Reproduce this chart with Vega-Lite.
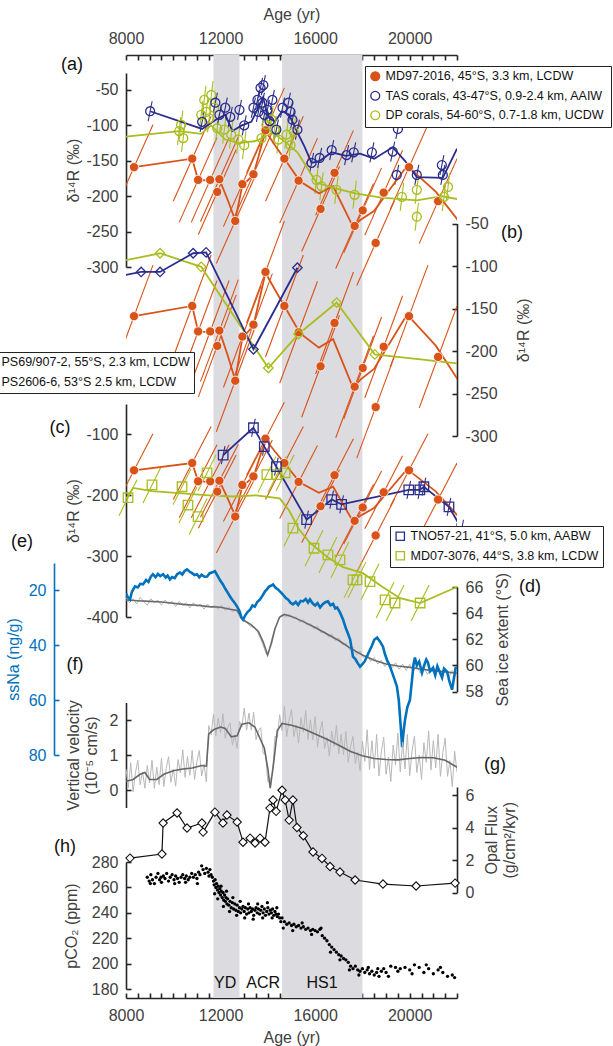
{
"$schema":"https://vega.github.io/schema/vega-lite/v6.json",
"width":331,"height":943,
"autosize":{"type":"none"},
"padding":{"left":126,"top":55,"right":156,"bottom":48},
"config":{
 "view":{"stroke":null},
 "font":"Liberation Sans",
 "axis":{"domainColor":"#262626","domainWidth":1.6,"tickColor":"#262626","tickWidth":1.6,"tickSize":-5,"labelPadding":13,"labelFontSize":16,"labelColor":"#404040","labelFont":"Liberation Sans","titleFont":"Liberation Sans","titleFontSize":16,"titleFontWeight":"normal","titleColor":"#404040","grid":false,"labelFlush":false,"labelOverlap":false,"labelExpr":"datum.value + ''"},
 "legend":{"labelFont":"Liberation Sans","labelFontSize":12.5,"labelColor":"#111111","labelLimit":400,"strokeColor":"#222222","fillColor":"white","padding":4,"rowPadding":4.5,"symbolStrokeWidth":1.3,"orient":"none"}
},
"datasets":{
 "md97":[
  {"age":8340,"r":-159,"a1":7540,"a2":9140,"r1":-219,"r2":-99},
  {"age":10800,"r":-147,"a1":10000,"a2":11600,"r1":-207,"r2":-87},
  {"age":11050,"r":-177,"a1":10250,"a2":11850,"r1":-237,"r2":-117},
  {"age":11560,"r":-177,"a1":10760,"a2":12360,"r1":-237,"r2":-117},
  {"age":11860,"r":-194,"a1":11060,"a2":12660,"r1":-254,"r2":-134},
  {"age":11950,"r":-176,"a1":11150,"a2":12750,"r1":-236,"r2":-116},
  {"age":12620,"r":-235,"a1":11820,"a2":13420,"r1":-295,"r2":-175},
  {"age":12920,"r":-183,"a1":12120,"a2":13720,"r1":-243,"r2":-123},
  {"age":13390,"r":-169,"a1":12590,"a2":14190,"r1":-229,"r2":-109},
  {"age":13900,"r":-107,"a1":13100,"a2":14700,"r1":-167,"r2":-47},
  {"age":14700,"r":-147,"a1":13900,"a2":15500,"r1":-207,"r2":-87},
  {"age":15300,"r":-178,"a1":14500,"a2":16100,"r1":-238,"r2":-118},
  {"age":16230,"r":-218,"a1":15430,"a2":17030,"r1":-278,"r2":-158},
  {"age":16820,"r":-167,"a1":16020,"a2":17620,"r1":-227,"r2":-107},
  {"age":17670,"r":-242,"a1":16870,"a2":18470,"r1":-302,"r2":-182},
  {"age":18010,"r":-220,"a1":17210,"a2":18810,"r1":-280,"r2":-160},
  {"age":18560,"r":-266,"a1":17760,"a2":19360,"r1":-326,"r2":-206},
  {"age":18900,"r":-195,"a1":18100,"a2":19700,"r1":-255,"r2":-135},
  {"age":19970,"r":-159,"a1":19170,"a2":20770,"r1":-219,"r2":-99},
  {"age":21200,"r":-207,"a1":20400,"a2":22000,"r1":-267,"r2":-147}
 ],
 "md97line":[
  {"age":8340,"r":-159},{"age":10800,"r":-147},{"age":11050,"r":-177},{"age":11560,"r":-178},{"age":11950,"r":-176},{"age":12300,"r":-205},{"age":12620,"r":-234},{"age":12920,"r":-185},{"age":13390,"r":-170},{"age":13900,"r":-108},{"age":14300,"r":-128},{"age":14700,"r":-147},{"age":15360,"r":-179},{"age":16160,"r":-196},{"age":16760,"r":-186},{"age":17600,"r":-243},{"age":17940,"r":-233},{"age":18490,"r":-221},{"age":19890,"r":-157},{"age":21110,"r":-194},{"age":22300,"r":-245}
 ],
 "tas":[
  {"age":9020,"r":-80},{"age":11220,"r":-95},{"age":11780,"r":-68},{"age":11950,"r":-85},{"age":12200,"r":-75},{"age":12410,"r":-88},{"age":12800,"r":-78},{"age":13000,"r":-100},{"age":13390,"r":-75},{"age":13560,"r":-64},{"age":13600,"r":-81},{"age":13690,"r":-47},{"age":13770,"r":-68},{"age":13810,"r":-43},{"age":13850,"r":-85},{"age":13980,"r":-78},{"age":14070,"r":-94},{"age":14190,"r":-64},{"age":14360,"r":-106},{"age":14620,"r":-75},{"age":14870,"r":-68},{"age":14960,"r":-81},{"age":15040,"r":-92},{"age":15250,"r":-106},{"age":15850,"r":-153},{"age":16190,"r":-146},{"age":16700,"r":-135},{"age":17330,"r":-142},{"age":17630,"r":-138},{"age":18400,"r":-138},{"age":19280,"r":-137},{"age":19500,"r":-105},{"age":19450,"r":-170},{"age":20300,"r":-170},{"age":21360,"r":-156},{"age":21400,"r":-170}
 ],
 "tasline":[
  {"age":9020,"r":-80},{"age":11220,"r":-105},{"age":11800,"r":-92},{"age":12200,"r":-85},{"age":12500,"r":-108},{"age":12900,"r":-100},{"age":13300,"r":-95},{"age":13600,"r":-75},{"age":13800,"r":-60},{"age":14000,"r":-88},{"age":14300,"r":-95},{"age":14600,"r":-80},{"age":14900,"r":-85},{"age":15250,"r":-110},{"age":15550,"r":-130},{"age":15850,"r":-153},{"age":16200,"r":-150},{"age":16700,"r":-138},{"age":17300,"r":-143},{"age":17900,"r":-140},{"age":18500,"r":-147},{"age":19280,"r":-131},{"age":19800,"r":-150},{"age":20300,"r":-173},{"age":21400,"r":-174},{"age":22000,"r":-133}
 ],
 "dp":[
  {"age":10250,"r":-108},{"age":10330,"r":-99},{"age":10420,"r":-118},{"age":11180,"r":-85},{"age":11310,"r":-64},{"age":11390,"r":-81},{"age":11520,"r":-90},{"age":11610,"r":-57},{"age":11730,"r":-75},{"age":11860,"r":-104},{"age":12160,"r":-106},{"age":12450,"r":-113},{"age":12750,"r":-120},{"age":13000,"r":-128},{"age":13730,"r":-118},{"age":13940,"r":-99},{"age":14150,"r":-92},{"age":14280,"r":-106},{"age":14450,"r":-120},{"age":14790,"r":-113},{"age":14960,"r":-128},{"age":15090,"r":-109},{"age":16060,"r":-177},{"age":16270,"r":-186},{"age":16900,"r":-191},{"age":17670,"r":-198},{"age":19670,"r":-201},{"age":20300,"r":-191},{"age":20300,"r":-229},{"age":21620,"r":-187},{"age":21450,"r":-201}
 ],
 "dpline":[
  {"age":8000,"r":-116},{"age":10250,"r":-108},{"age":11180,"r":-112},{"age":11600,"r":-100},{"age":12200,"r":-120},{"age":12800,"r":-125},{"age":13500,"r":-122},{"age":14200,"r":-110},{"age":14800,"r":-125},{"age":15250,"r":-138},{"age":16060,"r":-181},{"age":17100,"r":-191},{"age":17700,"r":-196},{"age":18800,"r":-202},{"age":20300,"r":-206},{"age":21360,"r":-200},{"age":22000,"r":-204}
 ],
 "ps69":[
  {"age":7700,"r":-112},{"age":8640,"r":-107},{"age":9440,"r":-107},{"age":10840,"r":-85},{"age":11390,"r":-84},{"age":13390,"r":-198},{"age":15250,"r":-102}
 ],
 "ps2606":[
  {"age":7500,"r":-96},{"age":9440,"r":-85},{"age":11180,"r":-101},{"age":14020,"r":-220},{"age":15300,"r":-180},{"age":16910,"r":-143},{"age":18520,"r":-204},{"age":22500,"r":-216}
 ],
 "tno":[
  {"age":12110,"r":-134},{"age":13390,"r":-89},{"age":13850,"r":-120},{"age":14360,"r":-153},{"age":15640,"r":-240},{"age":16700,"r":-207},{"age":17120,"r":-215},{"age":19960,"r":-191},{"age":20430,"r":-191},{"age":20600,"r":-186},{"age":21660,"r":-219},{"age":22200,"r":-255}
 ],
 "md07":[
  {"age":8085,"r":-204},{"age":9100,"r":-183},{"age":10370,"r":-186},{"age":10620,"r":-216},{"age":11050,"r":-235},{"age":11430,"r":-163},{"age":13960,"r":-166},{"age":14390,"r":-166},{"age":14730,"r":-163},{"age":15060,"r":-254},{"age":15950,"r":-287},{"age":16540,"r":-298},{"age":17050,"r":-306},{"age":17600,"r":-339},{"age":17770,"r":-339},{"age":18320,"r":-342},{"age":18960,"r":-372},{"age":19380,"r":-377},{"age":20440,"r":-377}
 ],
 "md07line":[
  {"age":8000,"r":-206},{"age":8300,"r":-188},{"age":9100,"r":-193},{"age":10370,"r":-197},{"age":11500,"r":-200},{"age":12500,"r":-202},{"age":13500,"r":-200},{"age":14500,"r":-205},{"age":14900,"r":-225},{"age":15300,"r":-255},{"age":15780,"r":-278},{"age":16500,"r":-301},{"age":17180,"r":-318},{"age":18020,"r":-328},{"age":18870,"r":-351},{"age":19590,"r":-369},{"age":20440,"r":-377},{"age":21920,"r":-352},{"age":22100,"r":-348}
 ],
 "seaice":[
  {"age":8000,"v":65.2},{"age":8150,"v":64.8},{"age":8300,"v":65.1},{"age":8450,"v":64.7},{"age":8600,"v":65.2},{"age":8750,"v":64.9},{"age":8900,"v":64.6},{"age":9050,"v":65.1},{"age":9200,"v":64.8},{"age":9350,"v":65.0},{"age":9500,"v":64.6},{"age":9650,"v":65.0},{"age":9800,"v":64.7},{"age":9950,"v":64.9},{"age":10100,"v":64.5},{"age":10250,"v":64.9},{"age":10400,"v":64.6},{"age":10550,"v":64.8},{"age":10700,"v":64.4},{"age":10850,"v":64.8},{"age":11000,"v":64.5},{"age":11150,"v":64.7},{"age":11300,"v":64.3},{"age":11450,"v":64.7},{"age":11600,"v":64.4},{"age":11750,"v":64.6},{"age":11900,"v":64.3},{"age":12050,"v":64.6},{"age":12200,"v":64.2},{"age":12350,"v":64.5},{"age":12500,"v":64.1},{"age":12650,"v":64.3},{"age":12800,"v":63.7},{"age":12950,"v":63.4},{"age":13100,"v":63.3},{"age":13250,"v":63.0},{"age":13400,"v":62.9},{"age":13550,"v":62.6},{"age":13700,"v":62.0},{"age":13850,"v":61.3},{"age":13950,"v":60.8},{"age":14050,"v":61.1},{"age":14150,"v":61.9},{"age":14300,"v":62.8},{"age":14450,"v":63.5},{"age":14600,"v":63.9},{"age":14750,"v":63.7},{"age":14900,"v":63.9},{"age":15050,"v":63.6},{"age":15200,"v":63.7},{"age":15350,"v":63.3},{"age":15500,"v":63.5},{"age":15650,"v":63.1},{"age":15800,"v":63.2},{"age":15950,"v":62.8},{"age":16100,"v":63.0},{"age":16250,"v":62.5},{"age":16400,"v":62.6},{"age":16550,"v":62.2},{"age":16700,"v":62.4},{"age":16850,"v":61.9},{"age":17000,"v":62.1},{"age":17150,"v":61.6},{"age":17300,"v":61.7},{"age":17450,"v":61.2},{"age":17600,"v":61.4},{"age":17750,"v":60.8},{"age":17900,"v":61.1},{"age":18050,"v":60.6},{"age":18200,"v":60.8},{"age":18350,"v":60.3},{"age":18500,"v":60.6},{"age":18650,"v":60.1},{"age":18800,"v":60.4},{"age":18950,"v":59.9},{"age":19100,"v":60.3},{"age":19250,"v":59.8},{"age":19400,"v":60.2},{"age":19550,"v":59.7},{"age":19700,"v":60.1},{"age":19850,"v":59.6},{"age":20000,"v":60.1},{"age":20150,"v":59.5},{"age":20300,"v":60.0},{"age":20450,"v":59.4},{"age":20600,"v":59.9},{"age":20750,"v":59.3},{"age":20900,"v":59.8},{"age":21050,"v":59.3},{"age":21200,"v":59.8},{"age":21350,"v":59.2},{"age":21500,"v":59.7},{"age":21650,"v":59.1},{"age":21800,"v":59.6},{"age":21950,"v":59.2},{"age":22000,"v":59.5}
 ],
 "seaicesm":[
  {"age":8000,"v":65.0},{"age":8500,"v":64.95},{"age":9000,"v":64.9},{"age":9500,"v":64.85},{"age":10000,"v":64.75},{"age":10500,"v":64.65},{"age":11000,"v":64.6},{"age":11500,"v":64.5},{"age":12000,"v":64.45},{"age":12400,"v":64.3},{"age":12700,"v":64.2},{"age":12950,"v":63.5},{"age":13300,"v":63.1},{"age":13600,"v":62.6},{"age":13800,"v":61.8},{"age":13990,"v":60.8},{"age":14150,"v":61.7},{"age":14300,"v":62.8},{"age":14500,"v":63.7},{"age":14700,"v":63.9},{"age":15000,"v":63.75},{"age":15500,"v":63.35},{"age":16000,"v":62.9},{"age":16500,"v":62.4},{"age":17000,"v":61.9},{"age":17500,"v":61.3},{"age":18000,"v":60.8},{"age":18500,"v":60.4},{"age":19000,"v":60.1},{"age":19500,"v":59.95},{"age":20000,"v":59.85},{"age":20500,"v":59.7},{"age":21000,"v":59.6},{"age":21500,"v":59.5},{"age":22000,"v":59.4}
 ],
 "ssna":[
  {"age":8000,"v":21.1},{"age":8080,"v":22.5},{"age":8170,"v":23.3},{"age":8250,"v":20.5},{"age":8380,"v":18.5},{"age":8500,"v":18.9},{"age":8600,"v":17.6},{"age":8720,"v":17.8},{"age":8850,"v":16.2},{"age":8950,"v":16.9},{"age":9050,"v":15.0},{"age":9140,"v":14.1},{"age":9250,"v":15.2},{"age":9350,"v":14.0},{"age":9450,"v":14.8},{"age":9570,"v":14.1},{"age":9680,"v":15.3},{"age":9760,"v":14.6},{"age":9860,"v":16.0},{"age":9950,"v":15.1},{"age":10060,"v":15.5},{"age":10160,"v":14.1},{"age":10280,"v":13.5},{"age":10380,"v":14.2},{"age":10480,"v":12.9},{"age":10580,"v":12.3},{"age":10680,"v":13.1},{"age":10780,"v":13.6},{"age":10900,"v":14.4},{"age":11000,"v":14.1},{"age":11100,"v":15.2},{"age":11200,"v":14.3},{"age":11320,"v":15.0},{"age":11430,"v":14.9},{"age":11530,"v":13.8},{"age":11650,"v":13.4},{"age":11760,"v":13.0},{"age":11870,"v":14.6},{"age":11980,"v":16.3},{"age":12100,"v":17.8},{"age":12200,"v":19.4},{"age":12300,"v":20.8},{"age":12400,"v":22.2},{"age":12500,"v":23.5},{"age":12600,"v":24.6},{"age":12700,"v":25.9},{"age":12800,"v":27.5},{"age":12880,"v":29.8},{"age":12950,"v":30.6},{"age":13050,"v":29.0},{"age":13150,"v":27.8},{"age":13250,"v":27.0},{"age":13350,"v":25.5},{"age":13450,"v":25.9},{"age":13550,"v":24.2},{"age":13670,"v":23.3},{"age":13780,"v":21.8},{"age":13880,"v":20.3},{"age":13960,"v":19.6},{"age":14050,"v":18.6},{"age":14150,"v":18.2},{"age":14220,"v":17.8},{"age":14330,"v":19.0},{"age":14440,"v":19.7},{"age":14540,"v":20.6},{"age":14640,"v":21.5},{"age":14760,"v":22.8},{"age":14860,"v":23.4},{"age":14960,"v":24.5},{"age":15060,"v":25.1},{"age":15180,"v":24.2},{"age":15280,"v":25.3},{"age":15390,"v":23.8},{"age":15490,"v":24.0},{"age":15600,"v":23.1},{"age":15700,"v":24.4},{"age":15780,"v":23.3},{"age":15900,"v":24.8},{"age":16000,"v":25.5},{"age":16100,"v":24.6},{"age":16210,"v":26.2},{"age":16320,"v":25.0},{"age":16430,"v":24.3},{"age":16540,"v":24.0},{"age":16650,"v":25.4},{"age":16760,"v":24.9},{"age":16850,"v":26.6},{"age":16930,"v":26.2},{"age":17050,"v":28.0},{"age":17180,"v":30.6},{"age":17300,"v":33.8},{"age":17400,"v":36.0},{"age":17480,"v":37.9},{"age":17550,"v":41.5},{"age":17600,"v":44.1},{"age":17700,"v":45.0},{"age":17800,"v":46.5},{"age":17900,"v":47.8},{"age":18000,"v":46.9},{"age":18100,"v":45.8},{"age":18190,"v":44.1},{"age":18300,"v":42.0},{"age":18400,"v":40.2},{"age":18500,"v":38.0},{"age":18620,"v":37.2},{"age":18740,"v":38.6},{"age":18870,"v":40.5},{"age":18950,"v":43.2},{"age":19050,"v":45.6},{"age":19170,"v":47.8},{"age":19280,"v":50.5},{"age":19380,"v":53.0},{"age":19460,"v":55.1},{"age":19540,"v":60.2},{"age":19590,"v":66.1},{"age":19640,"v":72.0},{"age":19680,"v":77.1},{"age":19740,"v":71.5},{"age":19800,"v":67.2},{"age":19900,"v":62.5},{"age":20010,"v":59.9},{"age":20100,"v":52.3},{"age":20160,"v":47.0},{"age":20220,"v":44.5},{"age":20300,"v":47.3},{"age":20400,"v":46.0},{"age":20520,"v":50.0},{"age":20620,"v":47.1},{"age":20700,"v":45.2},{"age":20770,"v":46.3},{"age":20860,"v":49.5},{"age":20990,"v":48.2},{"age":21080,"v":50.9},{"age":21170,"v":47.6},{"age":21280,"v":49.9},{"age":21370,"v":51.8},{"age":21450,"v":48.5},{"age":21580,"v":49.6},{"age":21680,"v":53.2},{"age":21790,"v":56.2},{"age":21870,"v":52.0},{"age":21950,"v":47.8}
 ],
 "vel":[
  {"age":8000,"v":0.60},{"age":8100,"v":0.07},{"age":8200,"v":0.78},{"age":8300,"v":-0.05},{"age":8400,"v":0.50},{"age":8500,"v":0.85},{"age":8600,"v":0.15},{"age":8700,"v":0.52},{"age":8800,"v":0.05},{"age":8900,"v":0.70},{"age":9000,"v":0.20},{"age":9100,"v":0.85},{"age":9200,"v":0.05},{"age":9300,"v":0.65},{"age":9400,"v":0.15},{"age":9500,"v":0.90},{"age":9600,"v":0.10},{"age":9700,"v":0.62},{"age":9800,"v":0.95},{"age":9900,"v":0.22},{"age":10000,"v":0.60},{"age":10100,"v":0.11},{"age":10200,"v":0.87},{"age":10300,"v":0.49},{"age":10400,"v":1.15},{"age":10500,"v":0.36},{"age":10600,"v":0.96},{"age":10700,"v":0.42},{"age":10800,"v":1.13},{"age":10900,"v":0.30},{"age":11000,"v":0.81},{"age":11100,"v":1.13},{"age":11200,"v":0.40},{"age":11300,"v":0.74},{"age":11400,"v":0.23},{"age":11500,"v":1.84},{"age":11600,"v":1.58},{"age":11700,"v":2.16},{"age":11800,"v":1.55},{"age":11900,"v":2.05},{"age":12000,"v":1.64},{"age":12100,"v":2.18},{"age":12200,"v":1.48},{"age":12300,"v":1.78},{"age":12400,"v":1.92},{"age":12500,"v":1.28},{"age":12600,"v":1.57},{"age":12700,"v":1.19},{"age":12800,"v":1.96},{"age":12900,"v":1.80},{"age":13000,"v":2.34},{"age":13100,"v":1.71},{"age":13200,"v":2.20},{"age":13300,"v":1.71},{"age":13400,"v":2.22},{"age":13500,"v":1.44},{"age":13600,"v":1.70},{"age":13700,"v":1.78},{"age":13800,"v":1.04},{"age":13900,"v":1.04},{"age":14000,"v":0.24},{"age":14100,"v":0.29},{"age":14200,"v":0.47},{"age":14300,"v":1.54},{"age":14400,"v":1.50},{"age":14500,"v":2.15},{"age":14600,"v":1.70},{"age":14700,"v":2.39},{"age":14800,"v":1.53},{"age":14900,"v":2.01},{"age":15000,"v":2.30},{"age":15100,"v":1.53},{"age":15200,"v":1.86},{"age":15300,"v":1.34},{"age":15400,"v":2.07},{"age":15500,"v":1.65},{"age":15600,"v":2.27},{"age":15700,"v":1.44},{"age":15800,"v":2.01},{"age":15900,"v":1.43},{"age":16000,"v":2.10},{"age":16100,"v":1.22},{"age":16200,"v":1.69},{"age":16300,"v":1.96},{"age":16400,"v":1.18},{"age":16500,"v":1.50},{"age":16600,"v":0.97},{"age":16700,"v":1.68},{"age":16800,"v":1.25},{"age":16900,"v":1.86},{"age":17000,"v":1.03},{"age":17100,"v":1.59},{"age":17200,"v":1.01},{"age":17300,"v":1.67},{"age":17400,"v":0.79},{"age":17500,"v":1.25},{"age":17600,"v":1.53},{"age":17700,"v":0.75},{"age":17800,"v":1.08},{"age":17900,"v":0.55},{"age":18000,"v":1.40},{"age":18100,"v":0.82},{"age":18200,"v":1.72},{"age":18300,"v":0.58},{"age":18400,"v":1.41},{"age":18500,"v":0.62},{"age":18600,"v":1.59},{"age":18700,"v":0.40},{"age":18800,"v":1.09},{"age":18900,"v":1.51},{"age":19000,"v":0.45},{"age":19100,"v":0.94},{"age":19200,"v":0.24},{"age":19300,"v":1.28},{"age":19400,"v":0.72},{"age":19500,"v":1.63},{"age":19600,"v":0.52},{"age":19700,"v":1.37},{"age":19800,"v":0.60},{"age":19900,"v":1.59},{"age":20000,"v":0.41},{"age":20100,"v":1.12},{"age":20200,"v":1.54},{"age":20300,"v":0.50},{"age":20400,"v":1.00},{"age":20500,"v":0.30},{"age":20600,"v":1.35},{"age":20700,"v":0.79},{"age":20800,"v":1.69},{"age":20900,"v":0.57},{"age":21000,"v":1.41},{"age":21100,"v":0.63},{"age":21200,"v":1.59},{"age":21300,"v":0.39},{"age":21400,"v":1.07},{"age":21500,"v":1.48},{"age":21600,"v":0.39},{"age":21700,"v":0.84},{"age":21800,"v":0.10},{"age":21900,"v":1.11},{"age":22000,"v":0.51}
 ],
 "velsm":[
  {"age":8000,"v":0.25},{"age":8300,"v":0.3},{"age":8600,"v":0.45},{"age":8800,"v":0.5},{"age":9000,"v":0.3},{"age":9300,"v":0.3},{"age":9600,"v":0.45},{"age":10000,"v":0.55},{"age":10400,"v":0.6},{"age":10800,"v":0.63},{"age":11200,"v":0.7},{"age":11400,"v":0.68},{"age":11500,"v":1.6},{"age":11700,"v":1.72},{"age":12000,"v":1.8},{"age":12200,"v":1.76},{"age":12450,"v":1.52},{"age":12700,"v":1.55},{"age":12900,"v":1.88},{"age":13200,"v":1.92},{"age":13450,"v":1.8},{"age":13650,"v":1.5},{"age":13850,"v":1.2},{"age":14000,"v":0.6},{"age":14100,"v":0.05},{"age":14250,"v":0.8},{"age":14400,"v":1.7},{"age":14600,"v":1.9},{"age":15000,"v":1.85},{"age":15500,"v":1.75},{"age":16000,"v":1.6},{"age":16500,"v":1.45},{"age":17000,"v":1.28},{"age":17500,"v":1.1},{"age":18000,"v":0.98},{"age":18500,"v":0.9},{"age":19000,"v":0.87},{"age":19500,"v":0.86},{"age":20000,"v":0.9},{"age":20500,"v":0.93},{"age":21000,"v":0.92},{"age":21500,"v":0.85},{"age":22000,"v":0.65}
 ],
 "opal":[
  {"age":8170,"v":2.12},{"age":9520,"v":2.37},{"age":9570,"v":4.28},{"age":10160,"v":4.9},{"age":10580,"v":3.97},{"age":11210,"v":4.28},{"age":11260,"v":3.72},{"age":11760,"v":4.95},{"age":12100,"v":4.28},{"age":12270,"v":4.77},{"age":12700,"v":4.34},{"age":12950,"v":3.1},{"age":13250,"v":3.35},{"age":13460,"v":3.05},{"age":13670,"v":3.35},{"age":13880,"v":3.1},{"age":14090,"v":5.2},{"age":14220,"v":5.7},{"age":14350,"v":5.0},{"age":14600,"v":6.3},{"age":14730,"v":5.7},{"age":14900,"v":4.46},{"age":15060,"v":5.7},{"age":15230,"v":4.0},{"age":15500,"v":3.5},{"age":15910,"v":2.5},{"age":16290,"v":2.1},{"age":16630,"v":1.6},{"age":17050,"v":1.26},{"age":17690,"v":0.77},{"age":18870,"v":0.52},{"age":20270,"v":0.4},{"age":21920,"v":0.58}
 ],
 "co2":[
  {"age":8900,"v":268},{"age":8980,"v":265},{"age":9050,"v":270},{"age":9120,"v":266},{"age":9200,"v":263},{"age":9270,"v":268},{"age":9350,"v":271},{"age":9420,"v":266},{"age":9500,"v":264},{"age":9580,"v":269},{"age":9650,"v":267},{"age":9720,"v":271},{"age":9800,"v":265},{"age":9870,"v":268},{"age":9950,"v":270},{"age":10030,"v":266},{"age":10100,"v":269},{"age":10180,"v":267},{"age":10250,"v":264},{"age":10330,"v":268},{"age":10400,"v":270},{"age":10480,"v":267},{"age":10550,"v":269},{"age":10630,"v":266},{"age":10700,"v":268},{"age":10780,"v":271},{"age":10850,"v":268},{"age":10930,"v":270},{"age":11000,"v":267},{"age":11070,"v":272},{"age":11130,"v":270},{"age":11200,"v":277},{"age":11260,"v":274},{"age":11330,"v":271},{"age":11400,"v":275},{"age":11470,"v":272},{"age":11550,"v":274},{"age":11600,"v":270},{"age":11650,"v":268},{"age":11700,"v":265},{"age":11730,"v":262},{"age":11770,"v":266},{"age":11800,"v":260},{"age":11830,"v":263},{"age":11870,"v":258},{"age":11900,"v":261},{"age":11930,"v":256},{"age":11970,"v":259},{"age":12000,"v":254},{"age":12030,"v":257},{"age":12070,"v":252},{"age":12100,"v":256},{"age":12130,"v":250},{"age":12170,"v":254},{"age":12200,"v":249},{"age":12230,"v":252},{"age":12270,"v":247},{"age":12300,"v":251},{"age":12350,"v":246},{"age":12400,"v":249},{"age":12450,"v":244},{"age":12500,"v":248},{"age":12550,"v":243},{"age":12600,"v":247},{"age":12650,"v":242},{"age":12700,"v":246},{"age":12750,"v":241},{"age":12800,"v":244},{"age":12850,"v":240},{"age":12900,"v":243},{"age":12950,"v":245},{"age":13000,"v":241},{"age":13050,"v":244},{"age":13100,"v":239},{"age":13150,"v":243},{"age":13200,"v":240},{"age":13250,"v":244},{"age":13300,"v":241},{"age":13350,"v":243},{"age":13400,"v":238},{"age":13450,"v":242},{"age":13500,"v":244},{"age":13550,"v":240},{"age":13600,"v":243},{"age":13650,"v":239},{"age":13700,"v":242},{"age":13750,"v":245},{"age":13800,"v":240},{"age":13850,"v":243},{"age":13900,"v":238},{"age":13950,"v":241},{"age":14000,"v":244},{"age":14050,"v":239},{"age":14100,"v":242},{"age":14150,"v":240},{"age":14200,"v":243},{"age":14250,"v":238},{"age":14300,"v":241},{"age":14350,"v":239},{"age":14400,"v":237},{"age":14450,"v":239},{"age":14500,"v":236},{"age":14550,"v":233},{"age":14600,"v":236},{"age":14700,"v":233},{"age":14800,"v":231},{"age":14900,"v":232},{"age":15000,"v":230},{"age":15100,"v":231},{"age":15200,"v":229},{"age":15300,"v":230},{"age":15400,"v":228},{"age":15500,"v":229},{"age":15600,"v":227},{"age":15700,"v":228},{"age":15800,"v":226},{"age":15900,"v":227},{"age":16000,"v":226},{"age":16100,"v":225},{"age":16200,"v":227},{"age":16300,"v":222},{"age":16400,"v":220},{"age":16500,"v":218},{"age":16600,"v":215},{"age":16700,"v":213},{"age":16800,"v":211},{"age":16900,"v":209},{"age":17000,"v":207},{"age":17100,"v":206},{"age":17200,"v":204},{"age":17300,"v":203},{"age":17400,"v":201},{"age":17500,"v":198},{"age":17600,"v":196},{"age":17700,"v":198},{"age":17800,"v":195},{"age":17900,"v":194},{"age":18000,"v":196},{"age":18100,"v":193},{"age":18200,"v":195},{"age":18300,"v":192},{"age":18400,"v":194},{"age":18500,"v":191},{"age":18600,"v":193},{"age":18700,"v":190},{"age":18800,"v":194},{"age":18900,"v":196},{"age":19000,"v":193},{"age":19200,"v":198},{"age":19400,"v":197},{"age":19600,"v":196},{"age":19800,"v":197},{"age":20000,"v":195},{"age":20200,"v":199},{"age":20400,"v":197},{"age":20600,"v":193},{"age":20800,"v":196},{"age":21000,"v":192},{"age":21200,"v":195},{"age":21400,"v":193},{"age":21600,"v":190},{"age":21800,"v":191},{"age":21900,"v":189},
  {"age":9030,"v":263},{"age":9480,"v":268},{"age":10060,"v":263},{"age":10520,"v":264},{"age":11020,"v":263},{"age":11510,"v":269},{"age":11750,"v":255},{"age":11880,"v":251},{"age":12020,"v":261},{"age":12120,"v":245},{"age":12250,"v":257},{"age":12380,"v":241},{"age":12520,"v":252},{"age":12680,"v":238},{"age":12830,"v":249},{"age":13020,"v":236},{"age":13180,"v":247},{"age":13380,"v":235},{"age":13570,"v":247},{"age":13780,"v":236},{"age":13980,"v":248},{"age":14180,"v":236},{"age":14380,"v":244},{"age":14650,"v":228},{"age":15050,"v":226},{"age":15450,"v":232},{"age":15850,"v":223},{"age":16250,"v":228},{"age":16650,"v":209},{"age":17050,"v":203},{"age":17450,"v":195},{"age":17850,"v":191},{"age":18250,"v":197},{"age":18650,"v":196},{"age":19100,"v":190},{"age":19500,"v":194},{"age":20100,"v":192},{"age":20700,"v":199},{"age":21300,"v":197}
 ]
},
"resolve":{"scale":{"y":"independent","color":"independent"},"axis":{"x":"independent","y":"independent"},"legend":{"color":"independent"}},
"layer":[
 {"data":{"values":[{"x1":11700,"x2":12800},{"x1":14600,"x2":18000}]},
  "mark":{"type":"rect","color":"#dcdbe0"},
  "encoding":{"x":{"field":"x1","type":"quantitative","scale":{"domain":[8000,22000],"nice":false,"zero":false},"axis":{"orient":"top","values":[8000,8500,9000,9500,10000,10500,11000,11500,12000,12500,13000,13500,14000,14500,15000,15500,16000,16500,17000,17500,18000,18500,19000,19500,20000,20500,21000,21500,22000],"labelExpr":"datum.value % 4000 == 0 ? datum.value + '' : ''","title":"Age (yr)","titlePadding":8,"labelPadding":14}},"x2":{"field":"x2"}}},

 {"data":{"name":"seaice"},"mark":{"type":"line","color":"#b8b8b8","strokeWidth":1,"clip":true},
  "encoding":{"x":{"field":"age","type":"quantitative","scale":{"domain":[8000,22000],"nice":false,"zero":false},"axis":null},
   "y":{"field":"v","type":"quantitative","scale":{"domain":[58,66],"range":[636.5,532],"nice":false,"zero":false},"axis":{"orient":"right","values":[58,60,62,64,66],"title":"Sea ice extent (°S)","titleAngle":-90,"titleBaseline":"top","titlePadding":12}}}},
 {"data":{"name":"seaicesm"},"mark":{"type":"line","color":"#6b6b6b","strokeWidth":1.6,"clip":true},
  "encoding":{"x":{"field":"age","type":"quantitative","scale":{"domain":[8000,22000],"nice":false,"zero":false},"axis":null},
   "y":{"field":"v","type":"quantitative","scale":{"domain":[58,66],"range":[636.5,532],"nice":false,"zero":false},"axis":null}}},
 {"data":{"values":[{}]},"mark":{"type":"text","text":"(d)","fontSize":18,"color":"#111111"},
  "encoding":{"x":{"datum":25090,"type":"quantitative","scale":{"domain":[8000,22000],"nice":false,"zero":false},"axis":null},
   "y":{"datum":66,"type":"quantitative","scale":{"domain":[58,66],"range":[636.5,532],"nice":false,"zero":false},"axis":null}}},

 {"data":{"name":"ssna"},"mark":{"type":"line","color":"#0072BD","strokeWidth":2.6,"clip":true},
  "encoding":{"x":{"field":"age","type":"quantitative","scale":{"domain":[8000,22000],"nice":false,"zero":false},"axis":null},
   "y":{"field":"v","type":"quantitative","scale":{"domain":[10,80],"range":[508,700],"nice":false,"zero":false},"axis":{"orient":"left","offset":72,"values":[20,40,60,80],"title":"ssNa (ng/g)","titlePadding":7,"domainColor":"#0072BD","tickColor":"#0072BD","labelColor":"#0072BD","titleColor":"#0072BD"}}}},
 {"data":{"values":[{}]},"mark":{"type":"text","text":"(e)","fontSize":18,"color":"#111111"},
  "encoding":{"x":{"datum":3600,"type":"quantitative","scale":{"domain":[8000,22000],"nice":false,"zero":false},"axis":null},
   "y":{"datum":2.34,"type":"quantitative","scale":{"domain":[10,80],"range":[508,700],"nice":false,"zero":false},"axis":null}}},

 {"data":{"name":"vel"},"mark":{"type":"line","color":"#b8b8b8","strokeWidth":1,"clip":true},
  "encoding":{"x":{"field":"age","type":"quantitative","scale":{"domain":[8000,22000],"nice":false,"zero":false},"axis":null},
   "y":{"field":"v","type":"quantitative","scale":{"domain":[-0.5,2.5],"range":[752.5,647.5],"nice":false,"zero":false},"axis":{"orient":"left","values":[0,1,2],"title":["Vertical velocity","(10⁻⁵ cm/s)"],"titlePadding":10}}}},
 {"data":{"name":"velsm"},"mark":{"type":"line","color":"#666666","strokeWidth":1.6,"clip":true},
  "encoding":{"x":{"field":"age","type":"quantitative","scale":{"domain":[8000,22000],"nice":false,"zero":false},"axis":null},
   "y":{"field":"v","type":"quantitative","scale":{"domain":[-0.5,2.5],"range":[752.5,647.5],"nice":false,"zero":false},"axis":null}}},
 {"data":{"values":[{}]},"mark":{"type":"text","text":"(f)","fontSize":18,"color":"#111111"},
  "encoding":{"x":{"datum":5843,"type":"quantitative","scale":{"domain":[8000,22000],"nice":false,"zero":false},"axis":null},
   "y":{"datum":3.57,"type":"quantitative","scale":{"domain":[-0.5,2.5],"range":[752.5,647.5],"nice":false,"zero":false},"axis":null}}},

 {"data":{"name":"opal"},"mark":{"type":"line","color":"#111111","strokeWidth":1.2},
  "encoding":{"x":{"field":"age","type":"quantitative","scale":{"domain":[8000,22000],"nice":false,"zero":false},"axis":null},
   "y":{"field":"v","type":"quantitative","scale":{"domain":[0,6.5],"range":[837.5,732],"nice":false,"zero":false},"axis":{"orient":"right","values":[0,2,4,6],"title":["Opal Flux","(g/cm²/kyr)"],"titleAngle":-90,"titleBaseline":"top","titlePadding":-8}}}},
 {"data":{"name":"opal"},"mark":{"type":"point","shape":"diamond","size":70,"filled":true,"fill":"white","stroke":"#111111","strokeWidth":1.1,"opacity":1},
  "encoding":{"x":{"field":"age","type":"quantitative","scale":{"domain":[8000,22000],"nice":false,"zero":false},"axis":null},
   "y":{"field":"v","type":"quantitative","scale":{"domain":[0,6.5],"range":[837.5,732],"nice":false,"zero":false},"axis":null}}},
 {"data":{"values":[{}]},"mark":{"type":"text","text":"(g)","fontSize":18,"color":"#111111"},
  "encoding":{"x":{"datum":23610,"type":"quantitative","scale":{"domain":[8000,22000],"nice":false,"zero":false},"axis":null},
   "y":{"datum":7.86,"type":"quantitative","scale":{"domain":[0,6.5],"range":[837.5,732],"nice":false,"zero":false},"axis":null}}},

 {"data":{"name":"co2"},"mark":{"type":"point","shape":"circle","size":11,"filled":true,"color":"#000000","opacity":1},
  "encoding":{"x":{"field":"age","type":"quantitative","scale":{"domain":[8000,22000],"nice":false,"zero":false},"axis":{"orient":"bottom","values":[8000,8500,9000,9500,10000,10500,11000,11500,12000,12500,13000,13500,14000,14500,15000,15500,16000,16500,17000,17500,18000,18500,19000,19500,20000,20500,21000,21500,22000],"labelExpr":"datum.value % 4000 == 0 ? datum.value + '' : ''","title":"Age (yr)","titlePadding":6,"labelPadding":14}},
   "y":{"field":"v","type":"quantitative","scale":{"domain":[180,280],"range":[934,807],"nice":false,"zero":false},"axis":{"orient":"left","values":[180,200,220,240,260,280],"title":"pCO₂ (ppm)","titlePadding":12}}}},
 {"data":{"values":[{}]},"mark":{"type":"text","text":"(h)","fontSize":18,"color":"#111111"},
  "encoding":{"x":{"datum":5420,"type":"quantitative","scale":{"domain":[8000,22000],"nice":false,"zero":false},"axis":null},
   "y":{"datum":291.8,"type":"quantitative","scale":{"domain":[180,280],"range":[934,807],"nice":false,"zero":false},"axis":null}}},
 {"data":{"values":[{}]},"mark":{"type":"text","text":"YD","fontSize":16,"color":"#111111"},
  "encoding":{"x":{"datum":12190,"type":"quantitative","scale":{"domain":[8000,22000],"nice":false,"zero":false},"axis":null},
   "y":{"datum":184.7,"type":"quantitative","scale":{"domain":[180,280],"range":[934,807],"nice":false,"zero":false},"axis":null}}},
 {"data":{"values":[{}]},"mark":{"type":"text","text":"ACR","fontSize":16,"color":"#111111"},
  "encoding":{"x":{"datum":13800,"type":"quantitative","scale":{"domain":[8000,22000],"nice":false,"zero":false},"axis":null},
   "y":{"datum":184.7,"type":"quantitative","scale":{"domain":[180,280],"range":[934,807],"nice":false,"zero":false},"axis":null}}},
 {"data":{"values":[{}]},"mark":{"type":"text","text":"HS1","fontSize":16,"color":"#111111"},
  "encoding":{"x":{"datum":16290,"type":"quantitative","scale":{"domain":[8000,22000],"nice":false,"zero":false},"axis":null},
   "y":{"datum":184.7,"type":"quantitative","scale":{"domain":[180,280],"range":[934,807],"nice":false,"zero":false},"axis":null}}},

 {"data":{"name":"md97"},"mark":{"type":"rule","strokeWidth":1.1,"clip":true,"color":"#D95319"},
  "encoding":{"x":{"field":"a1","type":"quantitative","scale":{"domain":[8000,22000],"nice":false,"zero":false},"axis":null},"x2":{"field":"a2"},
   "y":{"field":"r1","type":"quantitative","scale":{"domain":[-400,-50],"range":[562,349],"nice":false,"zero":false},"axis":{"orient":"left","values":[-400,-300,-200,-100],"title":"δ¹⁴R (‰)","titlePadding":4}},"y2":{"field":"r2"}}},
 {"data":{"name":"md07"},"mark":{"type":"point","shape":"M-0.5,1L0.5,-1","size":1296,"filled":false,"strokeWidth":1.1,"opacity":1,"color":"#a9bd1e"},
  "encoding":{"x":{"field":"age","type":"quantitative","scale":{"domain":[8000,22000],"nice":false,"zero":false},"axis":null},
   "y":{"field":"r","type":"quantitative","scale":{"domain":[-400,-50],"range":[562,349],"nice":false,"zero":false},"axis":null}}},
 {"data":{"name":"tno"},"mark":{"type":"point","shape":"M-0.2,1L0.2,-1","size":324,"filled":false,"strokeWidth":1.1,"opacity":1,"color":"#2b2d8c"},
  "encoding":{"x":{"field":"age","type":"quantitative","scale":{"domain":[8000,22000],"nice":false,"zero":false},"axis":null},
   "y":{"field":"r","type":"quantitative","scale":{"domain":[-400,-50],"range":[562,349],"nice":false,"zero":false},"axis":null}}},
 {"data":{"name":"md97line"},"mark":{"type":"line","strokeWidth":1.8,"clip":true,"color":"#D95319"},
  "encoding":{"x":{"field":"age","type":"quantitative","scale":{"domain":[8000,22000],"nice":false,"zero":false},"axis":null},
   "y":{"field":"r","type":"quantitative","scale":{"domain":[-400,-50],"range":[562,349],"nice":false,"zero":false},"axis":null}}},
 {"data":{"name":"md07line"},"mark":{"type":"line","strokeWidth":1.8,"clip":true},
  "encoding":{"x":{"field":"age","type":"quantitative","scale":{"domain":[8000,22000],"nice":false,"zero":false},"axis":null},
   "y":{"field":"r","type":"quantitative","scale":{"domain":[-400,-50],"range":[562,349],"nice":false,"zero":false},"axis":null},
   "color":{"datum":"MD07-3076, 44°S, 3.8 km, LCDW","scale":{"domain":["TNO57-21, 41°S, 5.0 km, AABW","MD07-3076, 44°S, 3.8 km, LCDW"],"range":["#2b2d8c","#a9bd1e"]},
    "legend":{"title":null,"legendX":264,"legendY":471,"symbolType":"square","symbolSize":70,"encode":{"symbols":{"update":{"fill":{"value":"transparent"},"stroke":{"signal":"indexof(datum.value,'TNO')==0 ? '#2b2d8c' : '#a9bd1e'"},"strokeWidth":{"value":1.3}}}}}}}},
 {"data":{"name":"tno"},"mark":{"type":"line","strokeWidth":1.8,"clip":true,"color":"#2b2d8c"},
  "encoding":{"x":{"field":"age","type":"quantitative","scale":{"domain":[8000,22000],"nice":false,"zero":false},"axis":null},
   "y":{"field":"r","type":"quantitative","scale":{"domain":[-400,-50],"range":[562,349],"nice":false,"zero":false},"axis":null}}},
 {"data":{"name":"md97"},"mark":{"type":"point","shape":"circle","filled":true,"size":85,"stroke":"white","strokeWidth":0.8,"opacity":1,"fill":"#D95319"},
  "encoding":{"x":{"field":"age","type":"quantitative","scale":{"domain":[8000,22000],"nice":false,"zero":false},"axis":null},
   "y":{"field":"r","type":"quantitative","scale":{"domain":[-400,-50],"range":[562,349],"nice":false,"zero":false},"axis":null}}},
 {"data":{"name":"md07"},"mark":{"type":"point","shape":"square","size":90,"filled":false,"strokeWidth":1.3,"opacity":1,"color":"#a9bd1e"},
  "encoding":{"x":{"field":"age","type":"quantitative","scale":{"domain":[8000,22000],"nice":false,"zero":false},"axis":null},
   "y":{"field":"r","type":"quantitative","scale":{"domain":[-400,-50],"range":[562,349],"nice":false,"zero":false},"axis":null}}},
 {"data":{"name":"tno"},"mark":{"type":"point","shape":"square","size":90,"filled":false,"strokeWidth":1.3,"opacity":1,"clip":true,"color":"#2b2d8c"},
  "encoding":{"x":{"field":"age","type":"quantitative","scale":{"domain":[8000,22000],"nice":false,"zero":false},"axis":null},
   "y":{"field":"r","type":"quantitative","scale":{"domain":[-400,-50],"range":[562,349],"nice":false,"zero":false},"axis":null}}},
 {"data":{"values":[{}]},"mark":{"type":"text","text":"(c)","fontSize":18,"color":"#111111"},
  "encoding":{"x":{"datum":5208,"type":"quantitative","scale":{"domain":[8000,22000],"nice":false,"zero":false},"axis":null},
   "y":{"datum":-89.5,"type":"quantitative","scale":{"domain":[-400,-50],"range":[562,349],"nice":false,"zero":false},"axis":null}}},

 {"data":{"name":"md97"},"mark":{"type":"rule","strokeWidth":1.1,"clip":true,"color":"#D95319"},
  "encoding":{"x":{"field":"a1","type":"quantitative","scale":{"domain":[8000,22000],"nice":false,"zero":false},"axis":null},"x2":{"field":"a2"},
   "y":{"field":"r1","type":"quantitative","scale":{"domain":[-300,-50],"range":[381,168.5],"nice":false,"zero":false},"axis":{"orient":"right","values":[-300,-250,-200,-150,-100,-50],"title":"δ¹⁴R (‰)","titleAngle":-90,"titleBaseline":"top","titlePadding":18}},"y2":{"field":"r2"}}},
 {"data":{"name":"md97line"},"mark":{"type":"line","strokeWidth":1.8,"clip":true,"color":"#D95319"},
  "encoding":{"x":{"field":"age","type":"quantitative","scale":{"domain":[8000,22000],"nice":false,"zero":false},"axis":null},
   "y":{"field":"r","type":"quantitative","scale":{"domain":[-300,-50],"range":[381,168.5],"nice":false,"zero":false},"axis":null}}},
 {"data":{"name":"ps2606"},"mark":{"type":"line","strokeWidth":1.8,"clip":true},
  "encoding":{"x":{"field":"age","type":"quantitative","scale":{"domain":[8000,22000],"nice":false,"zero":false},"axis":null},
   "y":{"field":"r","type":"quantitative","scale":{"domain":[-300,-50],"range":[381,168.5],"nice":false,"zero":false},"axis":null},
   "color":{"datum":"PS2606-6, 53°S 2.5 km, LCDW","scale":{"domain":["PS69/907-2, 55°S, 2.3 km, LCDW","PS2606-6, 53°S 2.5 km, LCDW"],"range":["#2b2d8c","#a9bd1e"]},
    "legend":{"title":null,"legendX":-145,"legendY":297,"symbolType":"diamond","symbolSize":70,"encode":{"symbols":{"update":{"fill":{"value":"transparent"},"stroke":{"signal":"indexof(datum.value,'PS69')==0 ? '#2b2d8c' : '#a9bd1e'"},"strokeWidth":{"value":1.3}}}}}}}},
 {"data":{"name":"ps69"},"mark":{"type":"line","strokeWidth":1.8,"clip":true,"color":"#2b2d8c"},
  "encoding":{"x":{"field":"age","type":"quantitative","scale":{"domain":[8000,22000],"nice":false,"zero":false},"axis":null},
   "y":{"field":"r","type":"quantitative","scale":{"domain":[-300,-50],"range":[381,168.5],"nice":false,"zero":false},"axis":null}}},
 {"data":{"name":"md97"},"mark":{"type":"point","shape":"circle","filled":true,"size":85,"stroke":"white","strokeWidth":0.8,"opacity":1,"fill":"#D95319"},
  "encoding":{"x":{"field":"age","type":"quantitative","scale":{"domain":[8000,22000],"nice":false,"zero":false},"axis":null},
   "y":{"field":"r","type":"quantitative","scale":{"domain":[-300,-50],"range":[381,168.5],"nice":false,"zero":false},"axis":null}}},
 {"data":{"name":"ps2606"},"mark":{"type":"point","shape":"diamond","size":90,"filled":false,"strokeWidth":1.3,"opacity":1,"clip":true,"color":"#a9bd1e"},
  "encoding":{"x":{"field":"age","type":"quantitative","scale":{"domain":[8000,22000],"nice":false,"zero":false},"axis":null},
   "y":{"field":"r","type":"quantitative","scale":{"domain":[-300,-50],"range":[381,168.5],"nice":false,"zero":false},"axis":null}}},
 {"data":{"name":"ps69"},"mark":{"type":"point","shape":"diamond","size":90,"filled":false,"strokeWidth":1.3,"opacity":1,"clip":true,"color":"#2b2d8c"},
  "encoding":{"x":{"field":"age","type":"quantitative","scale":{"domain":[8000,22000],"nice":false,"zero":false},"axis":null},
   "y":{"field":"r","type":"quantitative","scale":{"domain":[-300,-50],"range":[381,168.5],"nice":false,"zero":false},"axis":null}}},
 {"data":{"values":[{}]},"mark":{"type":"text","text":"(b)","fontSize":18,"color":"#111111"},
  "encoding":{"x":{"datum":24328,"type":"quantitative","scale":{"domain":[8000,22000],"nice":false,"zero":false},"axis":null},
   "y":{"datum":-61.2,"type":"quantitative","scale":{"domain":[-300,-50],"range":[381,168.5],"nice":false,"zero":false},"axis":null}}},

 {"data":{"name":"md97"},"mark":{"type":"rule","strokeWidth":1.1,"clip":true},
  "encoding":{"x":{"field":"a1","type":"quantitative","scale":{"domain":[8000,22000],"nice":false,"zero":false},"axis":null},"x2":{"field":"a2"},
   "y":{"field":"r1","type":"quantitative","scale":{"domain":[-300,-26],"range":[212,18],"nice":false,"zero":false},"axis":{"orient":"left","values":[-300,-250,-200,-150,-100,-50],"title":"δ¹⁴R (‰)","titlePadding":4}},"y2":{"field":"r2"},
   "color":{"datum":"MD97-2016, 45°S, 3.3 km, LCDW","scale":{"domain":["MD97-2016, 45°S, 3.3 km, LCDW","TAS corals,  43-47°S, 0.9-2.4 km, AAIW","DP corals, 54-60°S, 0.7-1.8 km, UCDW"],"range":["#D95319","#2b2d8c","#a9bd1e"]},
    "legend":{"title":null,"legendX":239,"legendY":11,"symbolType":"circle","symbolSize":80,"encode":{"symbols":{"update":{"fill":{"signal":"indexof(datum.value,'MD97')==0 ? '#D95319' : 'transparent'"},"stroke":{"signal":"indexof(datum.value,'MD97')==0 ? 'white' : indexof(datum.value,'TAS')==0 ? '#2b2d8c' : '#a9bd1e'"},"strokeWidth":{"value":1.3}}}}}}}},
 {"data":{"name":"dp"},"mark":{"type":"point","shape":"M-0.12,1L0.12,-1","size":784,"filled":false,"strokeWidth":1.1,"opacity":1,"color":"#a9bd1e"},
  "encoding":{"x":{"field":"age","type":"quantitative","scale":{"domain":[8000,22000],"nice":false,"zero":false},"axis":null},
   "y":{"field":"r","type":"quantitative","scale":{"domain":[-300,-26],"range":[212,18],"nice":false,"zero":false},"axis":null}}},
 {"data":{"name":"tas"},"mark":{"type":"point","shape":"M-0.2,1L0.2,-1","size":400,"filled":false,"strokeWidth":1.1,"opacity":1,"color":"#2b2d8c"},
  "encoding":{"x":{"field":"age","type":"quantitative","scale":{"domain":[8000,22000],"nice":false,"zero":false},"axis":null},
   "y":{"field":"r","type":"quantitative","scale":{"domain":[-300,-26],"range":[212,18],"nice":false,"zero":false},"axis":null}}},
 {"data":{"name":"md97line"},"mark":{"type":"line","strokeWidth":1.8,"clip":true,"color":"#D95319"},
  "encoding":{"x":{"field":"age","type":"quantitative","scale":{"domain":[8000,22000],"nice":false,"zero":false},"axis":null},
   "y":{"field":"r","type":"quantitative","scale":{"domain":[-300,-26],"range":[212,18],"nice":false,"zero":false},"axis":null}}},
 {"data":{"name":"dpline"},"mark":{"type":"line","strokeWidth":1.8,"clip":true,"color":"#a9bd1e"},
  "encoding":{"x":{"field":"age","type":"quantitative","scale":{"domain":[8000,22000],"nice":false,"zero":false},"axis":null},
   "y":{"field":"r","type":"quantitative","scale":{"domain":[-300,-26],"range":[212,18],"nice":false,"zero":false},"axis":null}}},
 {"data":{"name":"tasline"},"mark":{"type":"line","strokeWidth":1.8,"clip":true,"color":"#2b2d8c"},
  "encoding":{"x":{"field":"age","type":"quantitative","scale":{"domain":[8000,22000],"nice":false,"zero":false},"axis":null},
   "y":{"field":"r","type":"quantitative","scale":{"domain":[-300,-26],"range":[212,18],"nice":false,"zero":false},"axis":null}}},
 {"data":{"name":"md97"},"mark":{"type":"point","shape":"circle","filled":true,"size":85,"stroke":"white","strokeWidth":0.8,"opacity":1,"fill":"#D95319"},
  "encoding":{"x":{"field":"age","type":"quantitative","scale":{"domain":[8000,22000],"nice":false,"zero":false},"axis":null},
   "y":{"field":"r","type":"quantitative","scale":{"domain":[-300,-26],"range":[212,18],"nice":false,"zero":false},"axis":null}}},
 {"data":{"name":"dp"},"mark":{"type":"point","shape":"circle","filled":false,"size":80,"strokeWidth":1.3,"opacity":1,"color":"#a9bd1e"},
  "encoding":{"x":{"field":"age","type":"quantitative","scale":{"domain":[8000,22000],"nice":false,"zero":false},"axis":null},
   "y":{"field":"r","type":"quantitative","scale":{"domain":[-300,-26],"range":[212,18],"nice":false,"zero":false},"axis":null}}},
 {"data":{"name":"tas"},"mark":{"type":"point","shape":"circle","filled":false,"size":80,"strokeWidth":1.3,"opacity":1,"color":"#2b2d8c"},
  "encoding":{"x":{"field":"age","type":"quantitative","scale":{"domain":[8000,22000],"nice":false,"zero":false},"axis":null},
   "y":{"field":"r","type":"quantitative","scale":{"domain":[-300,-26],"range":[212,18],"nice":false,"zero":false},"axis":null}}},
 {"data":{"values":[{}]},"mark":{"type":"text","text":"(a)","fontSize":18,"color":"#111111"},
  "encoding":{"x":{"datum":5716,"type":"quantitative","scale":{"domain":[8000,22000],"nice":false,"zero":false},"axis":null},
   "y":{"datum":-14.7,"type":"quantitative","scale":{"domain":[-300,-26],"range":[212,18],"nice":false,"zero":false},"axis":null}}}
]
}
